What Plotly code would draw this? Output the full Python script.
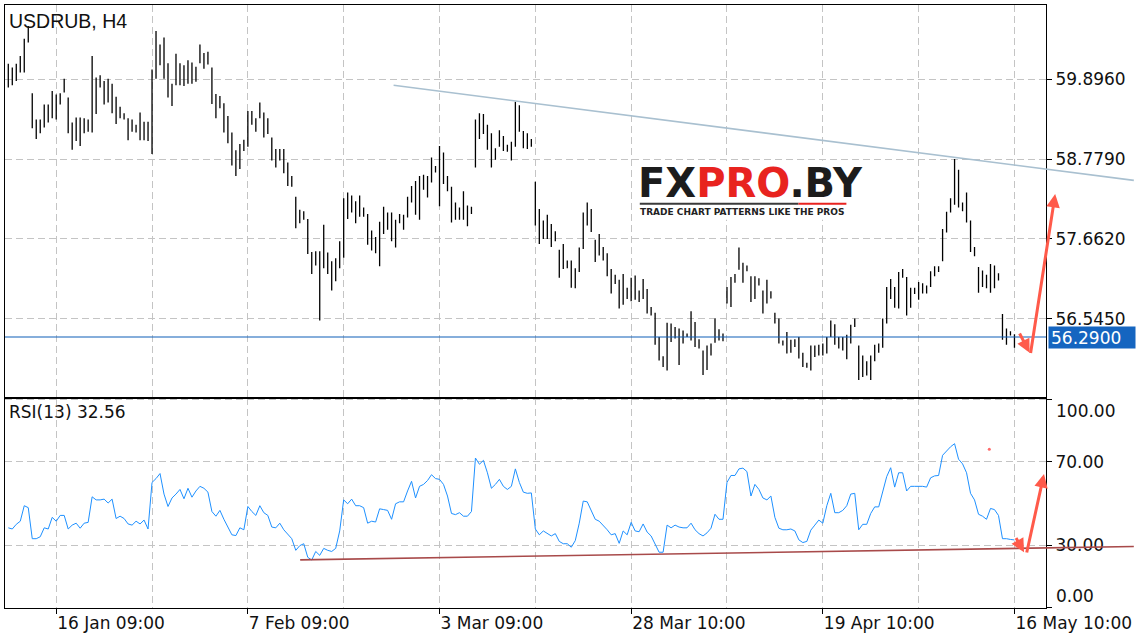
import plotly.graph_objects as go

# ---------------- data ----------------
bar_high = [
    60.11, 60.06, 60.11, 60.22, 60.46, 60.64, 59.70, 59.33, 59.33, 59.54,
    59.54, 59.73, 59.68, 59.70, 59.90, 59.64, 59.29, 59.36, 59.36, 59.35,
    59.33, 60.22, 59.92, 59.95, 59.87, 59.90, 59.83, 59.65, 59.51, 59.42,
    59.35, 59.33, 59.26, 59.43, 59.30, 59.30, 60.03, 60.57, 60.38, 60.48,
    60.12, 59.83, 60.25, 60.12, 60.09, 60.16, 60.13, 60.07, 60.38, 60.26,
    60.28, 60.06, 59.69, 59.66, 59.56, 59.38, 59.15, 58.90, 58.99, 59.05,
    59.45, 59.45, 59.35, 59.57, 59.43, 59.35, 59.08, 58.92, 58.92, 58.92,
    58.73, 58.54, 58.25, 58.07, 58.05, 57.94, 57.48, 57.49, 57.49, 57.86,
    57.47, 57.35, 57.39, 57.63, 58.23, 58.31, 58.27, 58.19, 58.27, 58.10,
    58.01, 57.78, 57.69, 57.90, 58.11, 58.03, 58.03, 57.93, 58.01, 58.00,
    58.25, 58.40, 58.47, 58.54, 58.56, 58.54, 58.80, 58.68, 58.96, 58.87,
    58.54, 58.39, 58.17, 58.10, 58.33, 58.13, 58.11, 59.33, 59.42, 59.41,
    59.26, 59.14, 58.93, 59.18, 59.10, 58.98, 59.02, 59.58, 59.53, 59.17,
    59.14, 59.06, 58.46, 58.08, 57.92, 58.00, 57.87, 57.77, 57.51, 57.59,
    57.36, 57.36, 57.25, 57.54, 58.03, 58.17, 58.08, 57.65, 57.73, 57.55,
    57.46, 57.24, 57.16, 57.09, 57.17, 56.98, 57.12, 57.15, 56.94, 57.10,
    56.96, 56.71, 56.63, 56.29, 56.02, 56.49, 56.48, 56.43, 56.41, 56.38,
    56.34, 56.65, 56.50, 56.26, 56.10, 56.17, 56.20, 56.55, 56.40, 56.34,
    56.99, 57.13, 57.17, 57.54, 57.33, 57.29, 57.14, 57.14, 57.11, 56.94,
    57.09, 56.93, 56.63, 56.55, 56.24, 56.36, 56.25, 56.26, 56.29, 56.07,
    55.93, 56.17, 56.17, 56.18, 56.20, 56.29, 56.52, 56.47, 56.29, 56.29,
    56.32, 56.46, 56.55, 56.17, 56.03, 55.95, 56.03, 56.18, 56.20, 56.55,
    56.99, 57.10, 56.99, 57.20, 57.24, 57.13, 56.98, 56.98, 57.06, 57.04,
    57.01, 57.21, 57.28, 57.28, 57.80, 58.04, 58.23, 58.78, 58.63, 58.17,
    58.31, 57.92, 57.55, 57.27, 57.22, 57.16, 57.31, 57.29, 57.18, 56.61,
    56.41, 56.37, 56.33,
]
bar_low = [
    59.78, 59.81, 59.87, 59.99, 59.99, 60.41, 59.21, 59.06, 59.14, 59.22,
    59.29, 59.35, 59.33, 59.54, 59.71, 59.14, 58.91, 59.03, 58.96, 59.14,
    59.16, 59.15, 59.41, 59.78, 59.54, 59.57, 59.42, 59.27, 59.35, 59.33,
    59.04, 59.16, 59.15, 59.04, 59.04, 59.03, 58.85, 59.90, 60.09, 59.90,
    59.64, 59.52, 59.81, 59.81, 59.80, 59.83, 59.83, 59.86, 60.12, 60.04,
    60.10, 59.55, 59.35, 59.49, 59.15, 59.00, 58.69, 58.54, 58.64, 58.89,
    58.95, 59.26, 59.16, 59.35, 59.08, 59.13, 58.76, 58.66, 58.76, 58.58,
    58.40, 58.39, 57.81, 57.88, 57.93, 57.45, 57.17, 57.29, 56.52, 57.25,
    57.17, 56.94, 57.07, 57.25, 57.40, 57.94, 58.03, 57.88, 57.97, 57.97,
    57.58, 57.50, 57.46, 57.28, 57.73, 57.79, 57.63, 57.54, 57.88, 57.79,
    57.96, 58.17, 58.00, 57.93, 58.35, 58.24, 58.45, 58.59, 58.12, 58.43,
    58.33, 57.89, 57.93, 57.93, 57.93, 57.84, 58.01, 58.66, 59.06, 59.13,
    58.91, 58.66, 58.77, 58.95, 58.89, 58.88, 58.76, 58.95, 59.16, 58.93,
    58.92, 58.95, 57.85, 57.59, 57.66, 57.66, 57.55, 57.63, 57.12, 57.24,
    57.25, 56.98, 56.97, 57.20, 57.52, 57.85, 57.76, 57.34, 57.43, 57.36,
    57.14, 56.90, 57.03, 56.69, 56.74, 56.82, 56.79, 56.81, 56.78, 56.82,
    56.62, 56.59, 56.18, 55.96, 55.87, 55.82, 56.22, 56.27, 55.90, 56.20,
    56.29, 56.24, 56.15, 56.13, 55.76, 55.83, 56.03, 56.21, 56.24, 56.23,
    56.76, 56.71, 57.05, 57.23, 57.05, 57.21, 56.78, 56.82, 57.01, 56.62,
    56.76, 56.83, 56.48, 56.20, 56.17, 56.06, 56.07, 56.15, 55.99, 55.87,
    55.86, 55.82, 56.01, 56.03, 56.03, 56.06, 56.29, 56.18, 56.13, 56.10,
    55.98, 56.20, 56.43, 55.69, 55.73, 55.75, 55.69, 55.95, 56.07, 56.14,
    56.48, 56.82, 56.70, 56.69, 57.12, 56.59, 56.70, 56.89, 56.81, 56.90,
    56.90, 56.99, 57.14, 57.20, 57.35, 57.75, 58.03, 58.14, 58.10, 58.05,
    57.89, 57.48, 57.42, 56.91, 56.99, 56.97, 56.91, 56.97, 57.08, 56.25,
    56.18, 56.31, 56.14,
]
rsi_values = [
    38.37, 37.81, 40.05, 41.54, 48.98, 48.05, 33.16, 33.16, 34.09, 38.37,
    37.81, 43.40, 41.54, 44.33, 44.33, 37.81, 39.67, 40.60, 38.19, 40.60,
    40.98, 53.26, 51.77, 51.77, 52.14, 50.28, 52.14, 42.84, 43.95, 42.84,
    40.23, 39.67, 41.54, 40.23, 42.09, 37.81, 60.14, 62.00, 64.42, 54.56,
    48.61, 52.70, 54.56, 56.79, 52.33, 57.35, 53.07, 56.05, 58.28, 57.35,
    55.49, 46.19, 43.95, 46.74, 42.47, 38.74, 35.02, 34.65, 38.37, 37.44,
    48.61, 46.19, 44.33, 48.98, 45.63, 44.33, 38.74, 38.37, 40.60, 37.44,
    35.40, 33.16, 27.58, 29.81, 30.74, 24.23, 22.93, 27.02, 25.16, 28.51,
    27.58, 27.02, 28.51, 36.88, 51.77, 49.91, 52.14, 48.98, 48.98, 48.05,
    40.60, 41.54, 41.16, 47.49, 47.12, 46.74, 42.47, 49.91, 50.84, 50.84,
    56.05, 60.70, 52.70, 58.28, 59.21, 61.07, 63.86, 62.00, 61.63, 59.21,
    53.63, 45.26, 44.70, 45.63, 43.95, 43.95, 46.19, 71.86, 68.88, 70.74,
    64.79, 57.35, 59.21, 61.63, 58.28, 56.79, 58.28, 66.65, 60.14, 55.49,
    54.93, 55.12, 37.81, 35.02, 36.88, 35.58, 34.47, 35.58, 31.86, 30.74,
    30.74, 29.07, 32.23, 40.60, 51.21, 50.84, 46.19, 42.47, 41.54, 39.67,
    37.44, 35.02, 35.58, 30.93, 36.88, 35.02, 40.98, 36.88, 36.51, 40.23,
    36.33, 34.47, 30.37, 26.65, 26.65, 39.67, 38.37, 39.67, 38.74, 38.37,
    38.37, 40.60, 37.44, 35.58, 34.47, 35.96, 38.19, 44.88, 42.47, 42.47,
    60.14, 63.49, 63.49, 66.65, 67.02, 65.35, 53.63, 59.21, 56.79, 52.70,
    51.77, 53.63, 43.40, 38.19, 37.44, 37.44, 37.81, 36.88, 32.60, 31.30,
    31.86, 37.26, 39.67, 42.09, 40.60, 48.98, 54.93, 45.63, 45.63, 46.74,
    48.98, 54.56, 54.93, 37.44, 40.05, 40.05, 45.26, 48.42, 48.42, 56.05,
    62.93, 67.21, 57.91, 64.79, 64.79, 56.05, 58.28, 58.28, 58.28, 58.28,
    57.91, 62.37, 63.30, 63.49, 73.17, 75.40, 77.26, 78.75, 71.30, 69.07,
    64.79, 54.93, 51.77, 44.88, 43.95, 42.47, 47.67, 47.12, 44.33, 33.16,
    33.16, 32.79, 32.56,
]

x_tick_bars = [12, 60, 108, 156, 204, 252]
x_tick_labels = ["16 Jan 09:00", "7 Feb 09:00", "3 Mar 09:00",
                 "28 Mar 10:00", "19 Apr 10:00", "16 May 10:00"]
x_grid_bars = [12, 36, 60, 84, 108, 132, 156, 180, 204, 228, 252]

price_ticks = [56.545, 57.662, 58.779, 59.896]
price_tick_labels = ["56.5450", "57.6620", "58.7790", "59.8960"]
rsi_ticks = [0, 30, 70, 100]
rsi_tick_labels = ["", "30.00", "70.00", ""]

current_price = 56.29
current_price_label = "56.2900"
rsi_last_label = "RSI(13) 32.56"
chart_title = "USDRUB, H4"

# hand-drawn objects (bar index, value)
resistance_line = [(96.5, 59.81), (281.9, 58.48)]
rsi_support_line = [(73.1, 23.0), (281.9, 29.4)]
price_arrows = [((253.1, 56.36), (255.8, 56.07)), ((256.0, 56.05), (262.2, 58.29))]
rsi_arrows = [((252.2, 34.2), (254.4, 26.6)), ((255.0, 25.9), (259.4, 64.2))]
rsi_dot = (245.7, 76.1)

# ---------------- geometry ----------------
W, H = 1136, 640
ML, MR, MT, MB = 5, 88, 4, 32
PW, PH = W - ML - MR, H - MT - MB
X_RANGE = [-0.825, 259.9]
PRICE_RANGE = [55.432, 60.933]
RSI_RANGE = [-0.1, 100.5]
SPLIT = 210 / PH
PRICE_DOM = [SPLIT, 1.0]
RSI_DOM = [0.0, SPLIT]


def paper_x(k):
    return (k - X_RANGE[0]) / (X_RANGE[1] - X_RANGE[0])


def paper_y(v, rng, dom):
    return dom[0] + (v - rng[0]) / (rng[1] - rng[0]) * (dom[1] - dom[0])


def sx(px):  # screen px -> paper x
    return (px - ML) / PW


def sy(py):  # screen px -> paper y
    return (H - MB - py) / PH


GRID = "#c4c4c4"
DASH = "7px,4px"
TICKFONT = dict(family="DejaVu Sans", size=17, color="#111111")
RED = "#ff5a4a"

# ---------------- traces ----------------
bx, by = [], []
for i, (hi, lo) in enumerate(zip(bar_high, bar_low)):
    bx += [i, i, None]
    by += [lo, hi, None]

fig = go.Figure()
fig.add_trace(go.Scatter(x=bx, y=by, mode="lines", xaxis="x2", yaxis="y",
                         line=dict(color="#000000", width=1.3),
                         hoverinfo="skip", showlegend=False))
fig.add_trace(go.Scatter(x=list(range(len(rsi_values))), y=rsi_values,
                         mode="lines", xaxis="x", yaxis="y2",
                         line=dict(color="#1e90ff", width=1),
                         showlegend=False))
fig.add_trace(go.Scatter(x=[rsi_dot[0]], y=[rsi_dot[1]], mode="markers",
                         xaxis="x", yaxis="y2",
                         marker=dict(color="#ff6a6a", size=3),
                         showlegend=False))

# ---------------- shapes ----------------
shapes = []
shapes.append(dict(type="line", xref="paper", yref="y", x0=0, x1=1,
                   y0=current_price, y1=current_price,
                   line=dict(color="#0f5fb8", width=1.2)))
(a0, b0), (a1, b1) = resistance_line
shapes.append(dict(type="line", xref="paper", yref="paper",
                   x0=paper_x(a0), y0=paper_y(b0, PRICE_RANGE, PRICE_DOM),
                   x1=paper_x(a1), y1=paper_y(b1, PRICE_RANGE, PRICE_DOM),
                   line=dict(color="#a9c0d0", width=1.6)))
(a0, b0), (a1, b1) = rsi_support_line
shapes.append(dict(type="line", xref="paper", yref="paper",
                   x0=paper_x(a0), y0=paper_y(b0, RSI_RANGE, RSI_DOM),
                   x1=paper_x(a1), y1=paper_y(b1, RSI_RANGE, RSI_DOM),
                   line=dict(color="#a84a4a", width=1.6)))
shapes.append(dict(type="rect", xref="paper", yref="paper",
                   x0=sx(636), x1=sx(866), y0=sy(219), y1=sy(160),
                   fillcolor="#ffffff", line=dict(width=0)))
shapes.append(dict(type="line", xref="paper", yref="paper",
                   x0=sx(641), x1=sx(800), y0=sy(203), y1=sy(203),
                   line=dict(color="#3a3a3a", width=2)))
shapes.append(dict(type="line", xref="paper", yref="paper",
                   x0=sx(800), x1=sx(848), y0=sy(203), y1=sy(203),
                   line=dict(color="#e8231f", width=2)))

# ---------------- annotations ----------------
ann = []
ann.append(dict(xref="paper", yref="paper", x=sx(7), y=sy(7),
                xanchor="left", yanchor="top", showarrow=False,
                text=chart_title,
                font=dict(family="Liberation Sans", size=19.5, color="#111111")))
ann.append(dict(xref="paper", yref="paper", x=sx(7), y=sy(400),
                xanchor="left", yanchor="top", showarrow=False,
                text=rsi_last_label, font=TICKFONT))
ann.append(dict(xref="paper", yref="paper", x=1.0, xshift=8,
                y=paper_y(100, RSI_RANGE, RSI_DOM), xanchor="left", yanchor="top",
                showarrow=False, text="100.00", font=TICKFONT))
ann.append(dict(xref="paper", yref="paper", x=1.0, xshift=8,
                y=paper_y(0, RSI_RANGE, RSI_DOM), xanchor="left", yanchor="bottom",
                showarrow=False, text="0.00", font=TICKFONT))
ann.append(dict(xref="paper", yref="y", x=1.0, xshift=2, y=current_price,
                xanchor="left", yanchor="middle", showarrow=False,
                text=current_price_label, bgcolor="#1565c0",
                font=dict(family="DejaVu Sans", size=17, color="#ffffff"),
                width=82, height=17, align="left", borderpad=2))
ann.append(dict(xref="paper", yref="paper", x=sx(637), y=sy(182),
                xanchor="left", yanchor="middle", showarrow=False,
                text="<b>FX<span style='color:#e8231f'>PRO</span>.BY</b>",
                font=dict(family="DejaVu Sans", size=40, color="#1c1c1c")))
ann.append(dict(xref="paper", yref="paper", x=sx(639), y=sy(211),
                xanchor="left", yanchor="middle", showarrow=False,
                text="<b>TRADE CHART PATTERNS LIKE THE PROS</b>",
                font=dict(family="DejaVu Sans", size=9, color="#222222")))


def arrow(tail, head, rng, dom):
    hx, hy = paper_x(head[0]), paper_y(head[1], rng, dom)
    tx, ty = paper_x(tail[0]), paper_y(tail[1], rng, dom)
    return dict(xref="paper", yref="paper", x=hx, y=hy,
                ax=(tx - hx) * PW, ay=-(ty - hy) * PH,
                showarrow=True, arrowhead=2, arrowsize=0.9, arrowwidth=3,
                arrowcolor=RED, text="", standoff=0)


for t, h in price_arrows:
    ann.append(arrow(t, h, PRICE_RANGE, PRICE_DOM))
for t, h in rsi_arrows:
    ann.append(arrow(t, h, RSI_RANGE, RSI_DOM))

# ---------------- layout ----------------
axis_common = dict(showline=True, linecolor="#000000", linewidth=1, mirror=True,
                   zeroline=False, showgrid=True, gridcolor=GRID, griddash=DASH,
                   gridwidth=1)

fig.update_layout(
    width=W, height=H,
    margin=dict(l=ML, r=MR, t=MT, b=MB, pad=0),
    paper_bgcolor="#ffffff", plot_bgcolor="#ffffff",
    showlegend=False,
    hovermode=False,
    xaxis=dict(domain=[0, 1], anchor="y2", range=X_RANGE,
               tickmode="array", tickvals=x_tick_bars, ticktext=x_tick_labels,
               ticks="outside", ticklen=5, tickcolor="#000000",
               ticklabelposition="outside right", tickfont=TICKFONT,
               minor=dict(tickmode="array", tickvals=x_grid_bars, showgrid=True,
                          gridcolor=GRID, griddash=DASH, ticks=""),
               **axis_common),
    xaxis2=dict(domain=[0, 1], anchor="y", matches="x", range=X_RANGE,
                tickmode="array", tickvals=x_grid_bars, showticklabels=False,
                ticks="", **axis_common),
    yaxis=dict(domain=PRICE_DOM, anchor="x2", side="right", range=PRICE_RANGE,
               tickmode="array", tickvals=price_ticks, ticktext=price_tick_labels,
               ticks="outside", ticklen=5, tickcolor="#000000", tickfont=TICKFONT,
               **axis_common),
    yaxis2=dict(domain=RSI_DOM, anchor="x", side="right", range=RSI_RANGE,
                tickmode="array", tickvals=rsi_ticks, ticktext=rsi_tick_labels,
                ticks="outside", ticklen=5, tickcolor="#000000", tickfont=TICKFONT,
                **axis_common),
    shapes=shapes,
    annotations=ann,
)

fig.write_html("out.html", config={"displayModeBar": False, "staticPlot": True},
               post_script="document.body.style.margin='0';document.body.style.overflow='hidden';")
